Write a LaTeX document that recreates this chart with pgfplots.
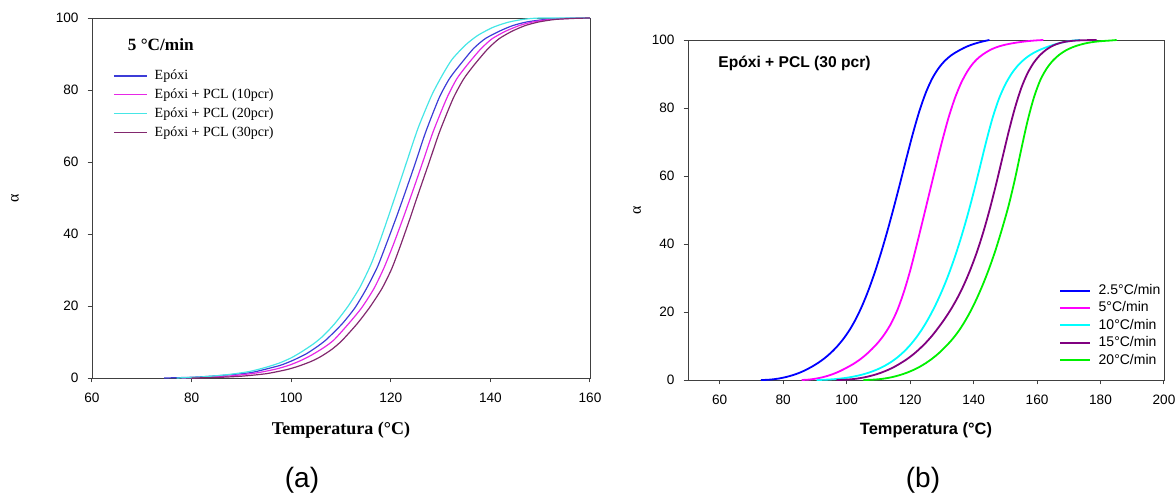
\documentclass[border=0pt]{standalone}
\usepackage{fontspec}
\setmainfont{Liberation Sans}
\newfontfamily\timesf{Liberation Serif}
\usepackage{pgfplots}
\pgfplotsset{compat=1.18}
\definecolor{lblue}{RGB}{60,60,215}
\definecolor{lmag}{RGB}{230,40,230}
\definecolor{lcyan}{RGB}{70,230,230}
\definecolor{lpur}{RGB}{130,40,110}
\definecolor{rblue}{RGB}{0,0,255}
\definecolor{rmag}{RGB}{255,0,255}
\definecolor{rcyan}{RGB}{0,255,255}
\definecolor{rpur}{RGB}{128,0,128}
\definecolor{rgreen}{RGB}{0,240,0}
\pgfplotsset{
  common/.style={
    scale only axis, clip=false,
    axis line style={black!75}, tick style={black!75, line width=0.5pt},
    tick align=outside, major tick length=2.2pt,
    xtick pos=bottom, ytick pos=left,
    ymin=0, ymax=100, ytick={0,20,...,100},
    /pgf/number format/assume math mode=true,
    tick label style={font=\fontsize{6.8}{8}\selectfont},
    xticklabel style={yshift=-2pt},
    yticklabel style={xshift=-1pt},
    legend cell align=left,
  }
}
\begin{document}
\begin{tikzpicture}
\useasboundingbox (0,0) rectangle (587.5pt,247.5pt);
% ---------------- (a) ----------------
\begin{axis}[common,
  at={(46pt,58.5pt)}, anchor=south west, width=249pt, height=180pt,
  xmin=60, xmax=160, xtick={60,80,...,160},
  xlabel={\timesf\bfseries Temperatura (°C)},
  xlabel style={at={(axis description cs:0.5,-0.144)}, anchor=center, font=\fontsize{9}{10}\selectfont},
  ylabel={\timesf α},
  ylabel style={at={(axis description cs:-0.155,0.5)}, anchor=center, font=\fontsize{8}{9}\selectfont},
  legend style={at={(axis description cs:0.042,0.862)}, anchor=north west, draw=none, fill=none,
    inner sep=0pt, row sep=1.4pt, font=\timesf\fontsize{7}{8}\selectfont,
    nodes={inner sep=0.6pt, text height=5.2pt, text depth=1.6pt}},
  legend image code/.code={\draw[#1, line width=0.6pt] (0pt,0pt) -- (16.5pt,0pt); \path (19.5pt,0pt);},
]
\addplot[lblue, line width=0.6pt, smooth, tension=0.4] coordinates {
(74.5,0) (80,0.2) (85,0.6) (90,1.2) (92.3,1.6) (95,2.5) (98,3.6) (100.5,5.0) (103,6.7) (105,8.5)
(107,10.6) (110.2,15.0) (112.8,19.5) (115.1,24.8) (117.3,30.8) (119.1,37.2) (121.1,44.6) (122.9,51.6)
(124.9,59.6) (127.0,68.3) (129.7,77.8) (131.8,83.2) (133.9,87.0) (136.6,91.5) (139,94.3) (141.9,96.4)
(144.5,97.9) (147.3,98.9) (151,99.6) (155,99.9) (160,100)};
\addlegendentry{Epóxi}
\addplot[lmag, line width=0.6pt, smooth, tension=0.4] coordinates {
(78,0) (83,0.2) (88,0.6) (93,1.4) (97,2.5) (99.7,3.6) (102,4.9) (104,6.3) (106.5,8.4) (108.6,10.6)
(111.6,15.2) (114.2,19.6) (116.6,24.8) (118.6,30.5) (120.5,37) (122.5,44.5) (124.3,51.5) (126.3,59.5)
(128.5,68.4) (131.2,77.6) (133.2,83) (135.3,86.9) (138,91.3) (140.3,94.2) (143,96.3) (145.8,97.9)
(148.5,98.9) (152,99.6) (156,99.9) (160,100)};
\addlegendentry{Epóxi + PCL (10pcr)}
\addplot[lcyan, line width=0.6pt, smooth, tension=0.4] coordinates {
(77,0) (82,0.3) (87,0.9) (91.6,1.8) (95,3.0) (97.7,4.2) (100,5.6) (102,7.2) (104.5,9.5) (106.5,11.8)
(108.8,15.2) (111.4,19.9) (113.8,25.2) (116,31.5) (117.8,38) (119.6,45.2) (121.4,52.6) (123.3,60.5)
(125.5,69.5) (128.2,78.5) (130.3,84) (132.3,88.5) (135,92.5) (137.5,95.2) (140.5,97.4) (143.5,98.8)
(146.5,99.6) (150,100) (160,100)};
\addlegendentry{Epóxi + PCL (20pcr)}
\addplot[lpur, line width=0.6pt, smooth, tension=0.4] coordinates {
(80,0) (85,0.15) (90,0.5) (95,1.2) (99,2.3) (101.5,3.3) (104,4.6) (106,6.0) (108.2,8.0) (110.2,10.4)
(113.2,15.0) (115.7,19.5) (118.2,24.8) (120.2,30.4) (122.0,37) (123.9,44.5) (125.6,51.5) (127.6,59.5)
(129.8,68.4) (132.5,77.6) (134.6,83) (136.7,86.9) (139.4,91.3) (141.7,94.2) (144.3,96.3) (147,97.9)
(149.7,98.9) (153,99.6) (157,99.9) (160,100)};
\addlegendentry{Epóxi + PCL (30pcr)}
\node[anchor=west, font=\timesf\bfseries\fontsize{8.6}{10}\selectfont] at (axis description cs:0.058,0.925) {5 °C/min};
\end{axis}
% ---------------- (b) ----------------
\begin{axis}[common,
  at={(344pt,57.5pt)}, anchor=south west, width=238pt, height=170pt,
  xmin=50, xmax=200, xtick={60,80,...,200},
  xlabel={\bfseries Temperatura (°C)},
  xlabel style={at={(axis description cs:0.5,-0.147)}, anchor=center, font=\fontsize{8.2}{10}\selectfont},
  ylabel={\timesf α},
  ylabel style={at={(axis description cs:-0.107,0.5)}, anchor=center, font=\fontsize{8}{9}\selectfont},
  legend style={at={(axis description cs:0.779,0.287)}, anchor=north west, draw=none, fill=none,
    inner sep=0pt, row sep=1.0pt, font=\fontsize{7}{8}\selectfont,
    nodes={inner sep=0.6pt, text height=5.2pt, text depth=1.3pt}},
  legend image code/.code={\draw[#1, line width=1pt] (0pt,0pt) -- (15pt,0pt); \path (18.2pt,0pt);},
]
\addplot[rblue, line width=0.9pt, smooth, tension=0.5] coordinates {
(73,0) (75,0.06) (77,0.22) (79,0.5) (81,0.9) (83,1.42) (85,2.08) (87,2.9) (89,3.9) (91,5.04) (93,6.38)
(95,7.98) (97,9.88) (99,12.14) (101,14.84) (103,18.14) (105,22.1) (107,26.74) (109,32.04) (111,37.94)
(113,44.38) (115,51.28) (117,58.48) (119,65.84) (121,72.94) (123,79.34) (125,84.64) (127,88.74)
(129,91.74) (131,93.94) (133,95.54) (135,96.7) (137,97.7) (139,98.5) (141,99.1) (143,99.6) (145,100)};
\addlegendentry{2.5°C/min}
\addplot[rmag, line width=0.9pt, smooth, tension=0.5] coordinates {
(85.8,0) (88,0.12) (90,0.36) (92,0.72) (94,1.22) (96,1.86) (98,2.66) (100,3.62) (102,4.66) (104,5.9)
(106,7.38) (108,9.14) (110,11.14) (112,13.58) (114,16.62) (116,20.62) (118,25.82) (120,32.12) (122,39.42)
(124,47.02) (126,54.72) (128,62.42) (130,69.92) (132,76.82) (134,82.62) (136,87.22) (138,90.72)
(140,93.32) (142,95.12) (144,96.42) (146,97.42) (148,98.12) (150,98.62) (152,99.0) (154,99.3)
(156,99.55) (158,99.75) (160,99.9) (162,100)};
\addlegendentry{5°C/min}
\addplot[rcyan, line width=0.9pt, smooth, tension=0.5] coordinates {
(90.5,0) (92,0.04) (94,0.12) (96,0.24) (98,0.42) (100,0.66) (102,0.98) (104,1.38) (106,1.88) (108,2.5)
(110,3.26) (112,4.18) (114,5.3) (116,6.66) (118,8.3) (120,10.26) (122,12.58) (124,15.3) (126,18.46)
(128,22.06) (130,26.14) (132,30.74) (134,35.94) (136,41.74) (138,48.14) (140,55.14) (142,62.64)
(144,70.24) (146,77.14) (148,82.74) (150,86.94) (152,90.14) (154,92.54) (156,94.34) (158,95.7)
(160,96.74) (162,97.54) (164,98.22) (166,98.82) (168,99.3) (170,99.66) (172,99.9) (173.5,100)};
\addlegendentry{10°C/min}
\addplot[rpur, line width=0.9pt, smooth, tension=0.5] coordinates {
(96.8,0) (99,0.06) (101,0.18) (103,0.38) (105,0.68) (107,1.08) (109,1.58) (111,2.2) (113,2.96)
(115,3.86) (117,4.94) (119,6.14) (121,7.54) (123,9.18) (125,11.02) (127,13.12) (129,15.52) (131,18.12)
(133,21.02) (135,24.32) (137,28.12) (139,32.52) (141,37.52) (143,43.32) (145,49.92) (147,57.22)
(149,65.02) (151,72.82) (153,79.92) (155,85.82) (157,90.22) (159,93.38) (161,95.62) (163,97.22)
(165,98.34) (167,99.06) (169,99.5) (171,99.74) (173,99.88) (175,99.94) (177,99.98) (178.8,100)};
\addlegendentry{15°C/min}
\addplot[rgreen, line width=0.9pt, smooth, tension=0.5] coordinates {
(105.3,0) (107,0.04) (109,0.14) (111,0.32) (113,0.6) (115,1.0) (117,1.52) (119,2.16) (121,2.94)
(123,3.88) (125,5.0) (127,6.32) (129,7.86) (131,9.66) (133,11.66) (135,14.02) (137,16.86) (139,20.16)
(141,23.96) (143,28.26) (145,33.06) (147,38.46) (149,44.56) (151,51.16) (153,58.96) (155,67.76)
(157,76.16) (159,83.06) (161,88.16) (163,91.56) (165,93.96) (167,95.66) (169,96.9) (171,97.8)
(173,98.46) (175,98.96) (177,99.32) (179,99.56) (181,99.72) (183,99.84) (185.1,100)};
\addlegendentry{20°C/min}
\node[anchor=west, font=\bfseries\fontsize{7.8}{9}\selectfont] at (axis description cs:0.049,0.931) {Epóxi + PCL (30 pcr)};
\end{axis}
\node[font=\fontsize{14}{16}\selectfont] at (151pt,7.5pt) {(a)};
\node[font=\fontsize{14}{16}\selectfont] at (461.5pt,7.5pt) {(b)};
\end{tikzpicture}
\end{document}
